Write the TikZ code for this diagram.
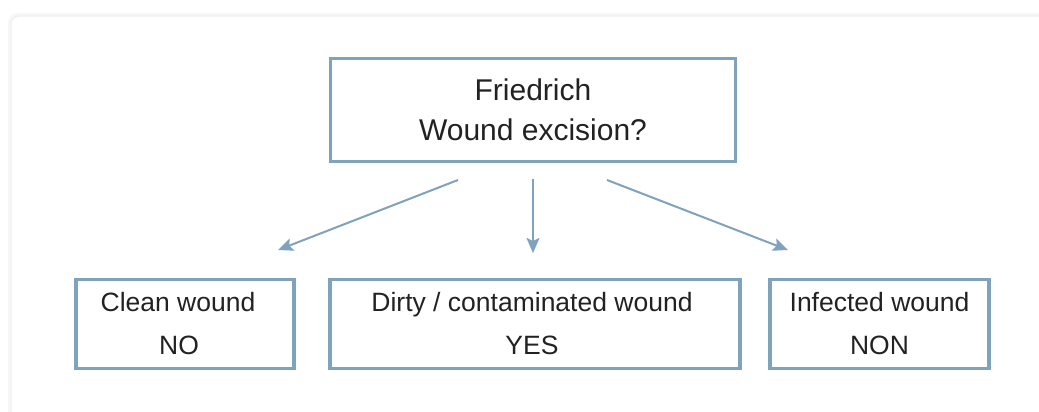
\documentclass[tikz,border=0pt]{standalone}
\usepackage{fontspec}
\setmainfont{Liberation Sans}
\usetikzlibrary{arrows.meta}
\definecolor{boxc}{RGB}{127,163,188}
\definecolor{txt}{RGB}{34,34,34}
\definecolor{panel}{RGB}{238,239,243}
\tikzset{
  box/.style={draw=boxc, line width=3.2pt, rectangle, inner sep=0pt, align=center, text=txt},
  topbox/.style={box, minimum width=405pt, minimum height=103pt, font=\fontsize{30}{40}\selectfont},
  botbox/.style={box, minimum height=89pt, font=\fontsize{26.5}{43}\selectfont},
  conn/.style={draw=boxc, line width=2pt, -{Stealth[length=15pt,width=13pt,inset=3pt]}}
}
\begin{document}
\begin{tikzpicture}[x=1pt,y=-1pt]
\useasboundingbox (0,0) rectangle (1039,412);
\fill[white] (0,0) rectangle (1039,412);
\draw[panel!50, line width=4pt, rounded corners=8pt] (10,15) rectangle (1060,430);
\draw[panel, line width=1.2pt, rounded corners=8pt, fill=white] (11,16) rectangle (1060,430);
\node[topbox] (top) at (533,110) {\rule{0pt}{2pt}Friedrich\\Wound excision?};
\node[botbox, minimum width=218pt] (clean) at (185,324) {\rule{0pt}{2pt}Clean wound\kern14pt\\NO\kern12pt};
\node[botbox, minimum width=410pt] (dirty) at (535,324) {\rule{0pt}{2pt}Dirty / contaminated wound\kern6pt\\YES\kern6pt};
\node[botbox, minimum width=219pt] (inf) at (879.5,324) {\rule{0pt}{2pt}Infected wound\\NON};
\coordinate (s1) at (458,180);
\coordinate (e1) at (278,250);
\coordinate (s2) at (533,179);
\coordinate (e2) at (533,253);
\coordinate (s3) at (607,180);
\coordinate (e3) at (788,250);
\draw[conn] (s1) -- (e1);
\draw[conn] (s2) -- (e2);
\draw[conn] (s3) -- (e3);
\end{tikzpicture}
\end{document}
